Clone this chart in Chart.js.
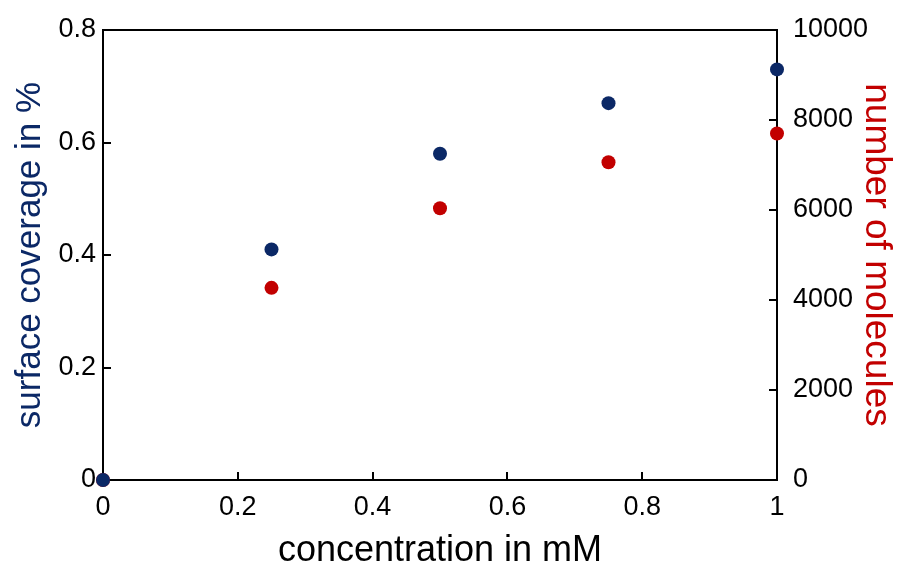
<!DOCTYPE html>
<html>
<head>
<meta charset="utf-8">
<script src="https://cdn.jsdelivr.net/npm/chart.js@4/dist/chart.umd.min.js"></script>
<style>
  html, body { margin: 0; padding: 0; background: #fff; }
  #wrap { width: 898px; height: 573px; }
</style>
</head>
<body>
<div id="wrap"><canvas id="c" width="898" height="573"></canvas></div>
<script>
const concentration = [0, 0.25, 0.5, 0.75, 1.0];
const surfaceCoverage = [0, 0.41, 0.58, 0.67, 0.73];
const numberOfMolecules = [0, 4270, 6040, 7060, 7700];
const xTicks = [0, 0.2, 0.4, 0.6, 0.8, 1];
const yLeftTicks = [0, 0.2, 0.4, 0.6, 0.8];
const yRightTicks = [0, 2000, 4000, 6000, 8000, 10000];

const navy = '#0b2866';
const red = '#c20000';
const FONT = "'Liberation Sans', Arial, sans-serif";

const topBorder = {
  id: 'topBorder',
  afterDatasetsDraw(chart) {
    const a = chart.chartArea;
    const c = chart.ctx;
    c.save();
    c.strokeStyle = '#000';
    c.lineWidth = 2;
    c.beginPath();
    c.moveTo(a.left - 1, a.top);
    c.lineTo(a.right + 1, a.top);
    c.stroke();
    c.restore();
  }
};

function fitVertical(w) {
  return s => { s.width = w; s.paddingTop = 0; s.paddingBottom = 0; };
}

const ctx = document.getElementById('c').getContext('2d');
new Chart(ctx, {
  type: 'scatter',
  plugins: [topBorder],
  data: {
    datasets: [
      {
        label: 'surface coverage in %',
        data: concentration.map((x, i) => ({ x: x, y: surfaceCoverage[i] })),
        yAxisID: 'y',
        backgroundColor: navy,
        borderColor: navy,
        pointRadius: 7,
        pointBorderWidth: 0,
        clip: false
      },
      {
        label: 'number of molecules',
        data: concentration.map((x, i) => ({ x: x, y: numberOfMolecules[i] })),
        yAxisID: 'y2',
        backgroundColor: red,
        borderColor: red,
        pointRadius: 7,
        pointBorderWidth: 0,
        clip: false
      }
    ]
  },
  options: {
    responsive: false,
    animation: false,
    layout: { padding: { top: 30, left: 0, right: 0, bottom: 0 } },
    plugins: { legend: { display: false }, tooltip: { enabled: false } },
    scales: {
      x: {
        type: 'linear',
        position: 'bottom',
        min: 0, max: 1,
        afterBuildTicks: s => { s.ticks = xTicks.map(v => ({ value: v })); },
        afterFit: s => { s.height = 93; s.paddingLeft = 0; s.paddingRight = 0; },
        ticks: {
          color: '#000',
          font: { family: FONT, size: 27 },
          padding: 19,
          maxRotation: 0,
          callback: v => String(v)
        },
        grid: { drawOnChartArea: false, drawTicks: true, tickLength: -8, color: '#000', lineWidth: 2 },
        border: { display: true, color: '#000', width: 2 },
        title: {
          display: true,
          text: 'concentration in mM',
          color: '#000',
          font: { family: FONT, size: 36 },
          padding: { top: 0, bottom: 0 }
        }
      },
      y: {
        type: 'linear',
        position: 'left',
        min: 0, max: 0.8,
        afterBuildTicks: s => { s.ticks = yLeftTicks.map(v => ({ value: v })); },
        afterFit: fitVertical(103),
        ticks: {
          color: '#000',
          font: { family: FONT, size: 27 },
          padding: 15,
          callback: v => String(Math.round(v * 10) / 10)
        },
        grid: { drawOnChartArea: false, drawTicks: true, tickLength: -8, color: '#000', lineWidth: 2 },
        border: { display: true, color: '#000', width: 2 },
        title: {
          display: true,
          text: 'surface coverage in %',
          color: navy,
          font: { family: FONT, size: 35 },
          padding: { top: 9, bottom: 0 }
        }
      },
      y2: {
        type: 'linear',
        position: 'right',
        min: 0, max: 10000,
        afterBuildTicks: s => { s.ticks = yRightTicks.map(v => ({ value: v })); },
        afterFit: fitVertical(121),
        ticks: {
          color: '#000',
          font: { family: FONT, size: 27 },
          padding: 24,
          callback: v => String(v)
        },
        grid: { drawOnChartArea: false, drawTicks: true, tickLength: -8, color: '#000', lineWidth: 2 },
        border: { display: true, color: '#000', width: 2 },
        title: {
          display: true,
          text: 'number of molecules',
          color: red,
          font: { family: FONT, size: 37 },
          padding: { top: 0, bottom: 0 }
        }
      }
    }
  }
});
</script>
</body>
</html>
